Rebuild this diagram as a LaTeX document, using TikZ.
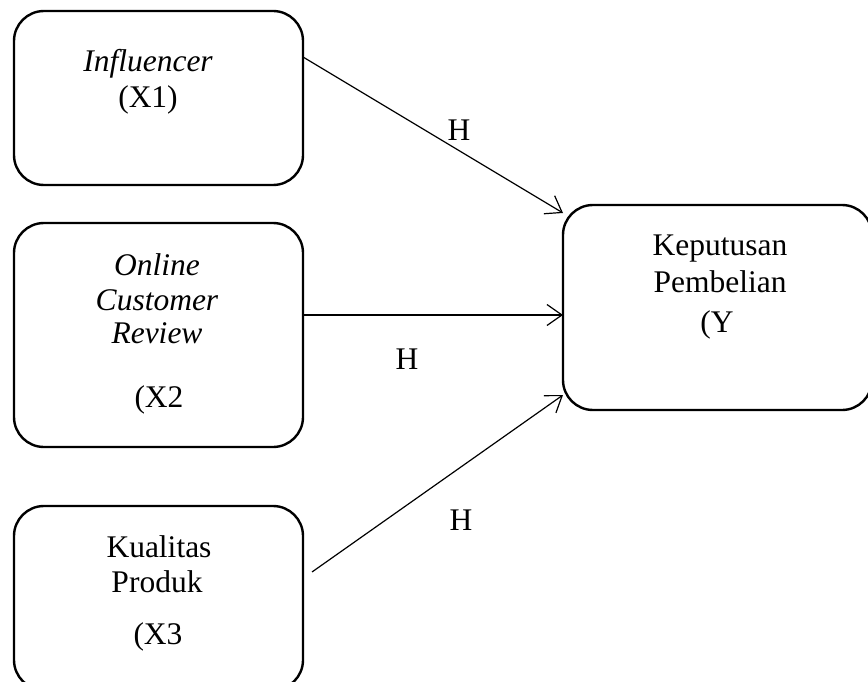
\documentclass[tikz,border=0pt]{standalone}
\usepackage{fontspec}
\setmainfont{Liberation Serif}
\usetikzlibrary{arrows.meta}
\begin{document}
\begin{tikzpicture}[x=1pt,y=1pt,
  box/.style={draw, line width=2.4pt, rounded corners=30pt, inner sep=0pt, outer sep=0pt},
  txt/.style={anchor=base, inner sep=0pt, font=\fontsize{31.5}{38}\selectfont},
  link/.style={line width=1.2pt, -{Straight Barb[length=15pt,width=21pt,line width=1.2pt]}}]
\useasboundingbox (0,0) rectangle (868,-682);
% boxes
\node[box, minimum width=289pt, minimum height=174pt] (b1) at (158.5,-98) {};
\node[box, minimum width=289pt, minimum height=224pt] (b2) at (158.5,-335) {};
\node[box, minimum width=289pt, minimum height=184pt] (b3) at (158.5,-598) {};
\node[box, minimum width=309pt, minimum height=205pt] (bY) at (717.5,-307.5) {};
% texts
\node[txt] (t11) at (148,-72) {\itshape Influencer};
\node[txt] (t12) at (148,-108) {(X1)};
\node[txt] (t21) at (157,-275) {\itshape Online};
\node[txt] (t22) at (157,-310) {\itshape Customer};
\node[txt] (t23) at (157,-343) {\itshape Review};
\node[txt] (t24) at (159,-407) {(X2};
\node[txt] (t31) at (159,-557) {Kualitas};
\node[txt] (t32) at (157,-592) {Produk};
\node[txt] (t33) at (158,-644) {(X3};
\node[txt] (tY1) at (720,-255) {Keputusan};
\node[txt] (tY2) at (720,-292) {Pembelian};
\node[txt] (tY3) at (717,-332) {(Y};
% H labels
\node[txt] (h1) at (459,-141) {H};
\node[txt] (h2) at (407,-369) {H};
\node[txt] (h3) at (461,-530) {H};
% connectors
\draw[link] ([yshift=-46pt]b1.north east) -- ([yshift=-8pt]bY.north west);
\draw[link] ([yshift=20pt]b2.east) -- ([yshift=-7.5pt]bY.west);
\draw[link] ([xshift=9pt,yshift=26pt]b3.east) -- ([yshift=15pt]bY.south west);
\end{tikzpicture}
\end{document}
